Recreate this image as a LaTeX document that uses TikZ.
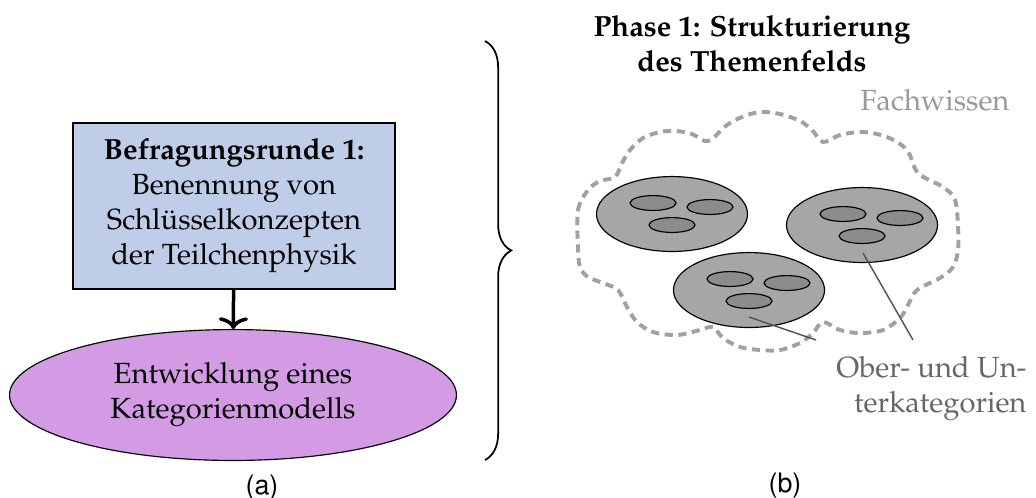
\documentclass[tikz,border=0pt]{standalone}
\usepackage[T1]{fontenc}
\usepackage{mathpazo}
\usepackage[scaled=.92]{helvet}
\usetikzlibrary{shapes.geometric,decorations.pathreplacing,arrows.meta}
\definecolor{boxblau}{RGB}{191,205,232}
\definecolor{ovallila}{RGB}{211,155,228}
\definecolor{kreisgrau}{RGB}{166,166,166}
\definecolor{kerngrau}{RGB}{140,140,140}
\tikzset{
  runde/.style={draw, fill=boxblau, minimum width=110.4pt, minimum height=56.9pt, align=center, inner sep=0pt},
  modell/.style={ellipse, draw, fill=ovallila, minimum width=153.3pt, minimum height=44.9pt, align=center, inner sep=0pt},
  gruppe/.style={ellipse, draw, fill=kreisgrau, minimum width=51.8pt, minimum height=25.7pt, inner sep=0pt},
  kern/.style={ellipse, draw, fill=kerngrau, minimum width=15.8pt, minimum height=5.1pt, inner sep=0pt},
  wolke/.style={draw=black!37, line width=1.35pt, dash pattern=on 2.8pt off 1.9pt},
  leiter/.style={draw=black!67, line width=.5pt}
}
\begin{document}
\begin{tikzpicture}[>={To[length=4pt, width=10pt]}, x=.343pt, y=-.343pt]
\useasboundingbox (0,0) rectangle (1036,497);
% (a)
\node[runde] (befragung) at (234,206) {\textbf{Befragungsrunde 1:}\\ Benennung von\\ Schl\"usselkonzepten\\ der Teilchenphysik};
\node[modell] (modell) at (233,395) {Entwicklung eines\\ Kategorienmodells};
\draw[->, very thick] (befragung) -- (modell);
\node (capa) at (262,487) {\sffamily (a)};
\coordinate (klammer-o) at (485,41);
\coordinate (klammer-u) at (485,460);
\draw[semithick, decorate, decoration={brace, amplitude=9pt}] (klammer-o) -- (klammer-u);
% (b)
\node[font=\bfseries, align=center, inner sep=0pt, anchor=north] (titel) at (752,15) {Phase 1: Strukturierung\\ des Themenfelds};
\node[text=black!40, inner sep=0pt, anchor=base east] (fach) at (1010,110) {Fachwissen};
\draw[wolke] plot[smooth cycle, tension=.55] coordinates {(578,247) (578,210) (588,190) (600,181) (615,177) (622,163) (630,150) (643,138) (660,132) (676,131) (692,134) (708,141) (727,125) (742,117) (760,112) (780,114) (800,121) (812,130) (823,142) (840,135) (863,132) (887,137) (907,150) (918,173) (943,187) (955,200) (958,227) (958,250) (953,267) (940,278) (917,290) (908,305) (900,318) (883,330) (860,333) (840,330) (823,322) (813,333) (800,343) (780,350) (760,350) (740,347) (723,338) (713,327) (700,330) (677,335) (653,332) (637,322) (627,307) (618,290) (603,283) (588,277) (580,267)};
\node[gruppe] (gruppe1) at (672,214) {};
\node[gruppe] (gruppe2) at (862,225) {};
\node[gruppe] (gruppe3) at (749,290) {};
\node[kern] (k11) at (653,203) {};
\node[kern] (k12) at (710,207) {};
\node[kern] (k13) at (672,225) {};
\node[kern] (k21) at (843,214) {};
\node[kern] (k22) at (900,218) {};
\node[kern] (k23) at (862,236) {};
\node[kern] (k31) at (730,279) {};
\node[kern] (k32) at (787,283) {};
\node[kern] (k33) at (749,301) {};
\node[text=black!60, align=right, inner sep=0pt, anchor=north east] (kategorien) at (1027,356) {Ober- und Un-\\ terkategorien};
\coordinate (zeiger1) at (749,317);
\coordinate (zeiger1-e) at (816,340);
\coordinate (zeiger2) at (863,253);
\coordinate (zeiger2-e) at (913,340);
\draw[leiter] (zeiger1) -- (zeiger1-e);
\draw[leiter] (zeiger2) -- (zeiger2-e);
\node (capb) at (785,485) {\sffamily (b)};
\end{tikzpicture}
\end{document}
